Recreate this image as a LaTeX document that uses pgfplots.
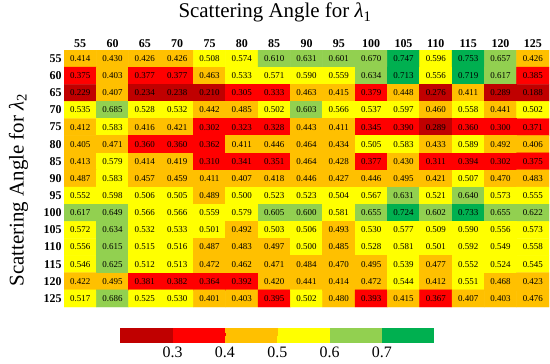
\documentclass[border=0pt]{standalone}
\usepackage{fontspec}
\setmainfont{Liberation Serif}
\usepackage{pgfplots}
\pgfplotsset{compat=1.18}
\pgfkeys{/pgf/number format/assume math mode=true}
\begin{document}
\begin{tikzpicture}
\useasboundingbox (-64bp,-57bp) rectangle (486bp,307bp);
\begin{axis}[
  at={(0,0)}, anchor=south west,
  scale only axis, width=485bp, height=257bp,
  xmin=-0.5, xmax=14.5, ymin=-0.5, ymax=14.5,
  y dir=reverse,
  xtick={0,...,14}, ytick={0,...,14},
  xticklabels={55,60,65,70,75,80,85,90,95,100,105,110,115,120,125},
  yticklabels={55,60,65,70,75,80,85,90,95,100,105,110,115,120,125},
  xticklabel pos=upper,
  tick style={draw=none},
  axis line style={draw=none},
  ticklabel style={font=\bfseries\fontsize{12}{13}\selectfont},
  yticklabel style={xshift=1bp},
  xticklabel style={yshift=-1bp},
  title={Scattering Angle for {\itshape λ}\textsubscript{1}},
  title style={font=\fontsize{21}{24}\selectfont, at={(axis description cs:0.435,1)}, anchor=south, yshift=18bp},
  ylabel={Scattering Angle for {\itshape λ}\textsubscript{2}},
  ylabel style={font=\fontsize{21}{24}\selectfont, at={(axis description cs:-0.094,0.455)}, anchor=center},
  colormap={hm}{rgb255(0cm)=(192,0,0) rgb255(1cm)=(255,0,0) rgb255(2cm)=(255,192,0) rgb255(3cm)=(255,255,0) rgb255(4cm)=(146,208,80) rgb255(5cm)=(0,176,80) rgb255(6cm)=(0,176,80)},
  colormap access=piecewise constant,
  point meta min=0.1995, point meta max=0.7995,
  colorbar horizontal,
  colorbar style={
    at={(0.1155,-0.0817)}, anchor=north west,
    scale only axis, width=314bp, height=15bp,
    xtick={0.3,0.4,0.5,0.6,0.7},
    xticklabels={0.3,0.4,0.5,0.6,0.7},
    xticklabel style={font=\fontsize{16}{17}\selectfont},
    major tick length=0pt,
    axis line style={draw=none},
  },
]
\addplot[matrix plot*, mesh/cols=15, point meta=explicit,
  nodes near coords={\pgfmathprintnumber[fixed,fixed zerofill,precision=3]{\pgfplotspointmeta}},
  nodes near coords style={anchor=center, font=\fontsize{9}{10}\selectfont, text=black},
] coordinates {
(0,0)[0.414] (1,0)[0.430] (2,0)[0.426] (3,0)[0.426] (4,0)[0.508] (5,0)[0.574] (6,0)[0.610] (7,0)[0.631] (8,0)[0.601] (9,0)[0.670] (10,0)[0.747] (11,0)[0.596] (12,0)[0.753] (13,0)[0.657] (14,0)[0.426]
(0,1)[0.375] (1,1)[0.403] (2,1)[0.377] (3,1)[0.377] (4,1)[0.463] (5,1)[0.533] (6,1)[0.571] (7,1)[0.590] (8,1)[0.559] (9,1)[0.634] (10,1)[0.713] (11,1)[0.556] (12,1)[0.719] (13,1)[0.617] (14,1)[0.385]
(0,2)[0.229] (1,2)[0.407] (2,2)[0.234] (3,2)[0.238] (4,2)[0.210] (5,2)[0.305] (6,2)[0.333] (7,2)[0.463] (8,2)[0.415] (9,2)[0.379] (10,2)[0.448] (11,2)[0.276] (12,2)[0.411] (13,2)[0.289] (14,2)[0.188]
(0,3)[0.535] (1,3)[0.685] (2,3)[0.528] (3,3)[0.532] (4,3)[0.442] (5,3)[0.485] (6,3)[0.502] (7,3)[0.603] (8,3)[0.566] (9,3)[0.537] (10,3)[0.597] (11,3)[0.460] (12,3)[0.558] (13,3)[0.441] (14,3)[0.502]
(0,4)[0.412] (1,4)[0.583] (2,4)[0.416] (3,4)[0.421] (4,4)[0.302] (5,4)[0.323] (6,4)[0.328] (7,4)[0.443] (8,4)[0.411] (9,4)[0.345] (10,4)[0.390] (11,4)[0.289] (12,4)[0.360] (13,4)[0.300] (14,4)[0.371]
(0,5)[0.405] (1,5)[0.471] (2,5)[0.360] (3,5)[0.360] (4,5)[0.362] (5,5)[0.411] (6,5)[0.446] (7,5)[0.464] (8,5)[0.434] (9,5)[0.505] (10,5)[0.583] (11,5)[0.433] (12,5)[0.589] (13,5)[0.492] (14,5)[0.406]
(0,6)[0.413] (1,6)[0.579] (2,6)[0.414] (3,6)[0.419] (4,6)[0.310] (5,6)[0.341] (6,6)[0.351] (7,6)[0.464] (8,6)[0.428] (9,6)[0.377] (10,6)[0.430] (11,6)[0.311] (12,6)[0.394] (13,6)[0.302] (14,6)[0.375]
(0,7)[0.487] (1,7)[0.583] (2,7)[0.457] (3,7)[0.459] (4,7)[0.411] (5,7)[0.407] (6,7)[0.418] (7,7)[0.446] (8,7)[0.427] (9,7)[0.446] (10,7)[0.495] (11,7)[0.421] (12,7)[0.507] (13,7)[0.470] (14,7)[0.483]
(0,8)[0.552] (1,8)[0.598] (2,8)[0.506] (3,8)[0.505] (4,8)[0.489] (5,8)[0.500] (6,8)[0.523] (7,8)[0.523] (8,8)[0.504] (9,8)[0.567] (10,8)[0.631] (11,8)[0.521] (12,8)[0.640] (13,8)[0.573] (14,8)[0.555]
(0,9)[0.617] (1,9)[0.649] (2,9)[0.566] (3,9)[0.566] (4,9)[0.559] (5,9)[0.579] (6,9)[0.605] (7,9)[0.600] (8,9)[0.581] (9,9)[0.655] (10,9)[0.724] (11,9)[0.602] (12,9)[0.733] (13,9)[0.655] (14,9)[0.622]
(0,10)[0.572] (1,10)[0.634] (2,10)[0.532] (3,10)[0.533] (4,10)[0.501] (5,10)[0.492] (6,10)[0.503] (7,10)[0.506] (8,10)[0.493] (9,10)[0.530] (10,10)[0.577] (11,10)[0.509] (12,10)[0.590] (13,10)[0.556] (14,10)[0.573]
(0,11)[0.556] (1,11)[0.615] (2,11)[0.515] (3,11)[0.516] (4,11)[0.487] (5,11)[0.483] (6,11)[0.497] (7,11)[0.500] (8,11)[0.485] (9,11)[0.528] (10,11)[0.581] (11,11)[0.501] (12,11)[0.592] (13,11)[0.549] (14,11)[0.558]
(0,12)[0.546] (1,12)[0.625] (2,12)[0.512] (3,12)[0.513] (4,12)[0.472] (5,12)[0.462] (6,12)[0.471] (7,12)[0.484] (8,12)[0.470] (9,12)[0.495] (10,12)[0.539] (11,12)[0.477] (12,12)[0.552] (13,12)[0.524] (14,12)[0.545]
(0,13)[0.422] (1,13)[0.495] (2,13)[0.381] (3,13)[0.382] (4,13)[0.364] (5,13)[0.392] (6,13)[0.420] (7,13)[0.441] (8,13)[0.414] (9,13)[0.472] (10,13)[0.544] (11,13)[0.412] (12,13)[0.551] (13,13)[0.468] (14,13)[0.423]
(0,14)[0.517] (1,14)[0.686] (2,14)[0.525] (3,14)[0.530] (4,14)[0.401] (5,14)[0.403] (6,14)[0.395] (7,14)[0.502] (8,14)[0.480] (9,14)[0.393] (10,14)[0.415] (11,14)[0.367] (12,14)[0.407] (13,14)[0.403] (14,14)[0.476]
};
\end{axis}
\end{tikzpicture}
\end{document}
